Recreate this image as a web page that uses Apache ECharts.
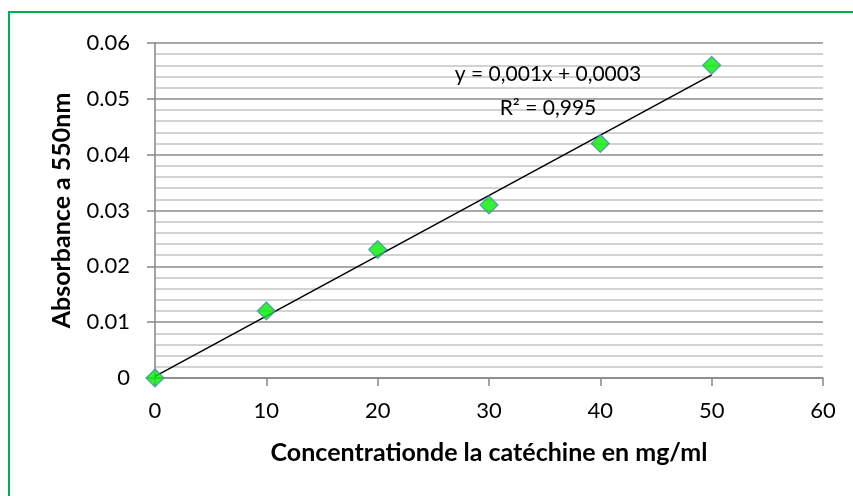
<!DOCTYPE html>
<html><head><meta charset="utf-8">
<script src="https://cdn.jsdelivr.net/npm/echarts@6/dist/echarts.min.js"></script>
<style>html,body{margin:0;padding:0;background:#fff}#c{width:853px;height:496px}</style>
</head><body><div id="c"></div>
<script>
const concentrations = [0, 10, 20, 30, 40, 50];
const absorbance = [0, 0.012, 0.023, 0.031, 0.042, 0.056];
const trendX = [0, 50];
const trendY = [0.0003, 0.0543];
const xTicks = [0, 10, 20, 30, 40, 50, 60];
const yTicks = ['0', '0.01', '0.02', '0.03', '0.04', '0.05', '0.06'];
const equationText = 'y = 0,001x + 0,0003';
const r2Text = 'R² = 0,995';
const xTitle = 'Concentrationde la catéchine en mg/ml';
const yTitle = 'Absorbance a 550nm';

const font = 'Lato, "Open Sans", sans-serif';
const chart = echarts.init(document.getElementById('c'), null, {renderer: 'canvas'});
chart.setOption({
  animation: false,
  backgroundColor: '#fff',
  grid: {left: 155, right: 30, top: 43, bottom: 118, containLabel: false},
  xAxis: {
    type: 'value', min: 0, max: 60, interval: 10,
    axisLine: {show: true, lineStyle: {color: '#868686', width: 1.5}},
    axisTick: {show: true, length: 8, lineStyle: {color: '#868686', width: 1.5}},
    axisLabel: {color: '#000', fontSize: 22, fontFamily: font, margin: 22},
    splitLine: {show: false},
    name: xTitle, nameLocation: 'middle', nameGap: 62,
    nameTextStyle: {color: '#000', fontSize: 25, fontWeight: 'bold', fontFamily: font}
  },
  yAxis: {
    type: 'value', min: 0, max: 0.06, interval: 0.01,
    axisLine: {show: true, lineStyle: {color: '#868686', width: 1.5}},
    axisTick: {show: true, length: 8, inside: false, lineStyle: {color: '#868686', width: 1.5}},
    axisLabel: {color: '#000', fontSize: 22, fontFamily: font, margin: 25,
      formatter: v => yTicks[Math.round(v * 100)] },
    splitLine: {show: true, lineStyle: {color: '#8c8c8c', width: 1.5}},
    minorTick: {show: false, splitNumber: 5},
    minorSplitLine: {show: true, lineStyle: {color: '#c4c4c4', width: 1.5}},
    name: yTitle, nameLocation: 'middle', nameGap: 81, nameRotate: 90,
    nameTextStyle: {color: '#000', fontSize: 25, fontWeight: 'bold', fontFamily: font}
  },
  series: [
    {
      type: 'line', data: trendX.map((x, i) => [x, trendY[i]]),
      symbol: 'none', lineStyle: {color: '#000', width: 1.5}, z: 3
    },
    {
      type: 'scatter', data: concentrations.map((x, i) => [x, absorbance[i]]),
      symbol: 'diamond', symbolSize: [18, 18],
      itemStyle: {color: '#00ee00', borderColor: '#4f81bd', borderWidth: 1.2}, z: 4
    }
  ],
  graphic: [
    {type: 'rect', shape: {x: 9, y: 12, width: 860, height: 500}, style: {fill: 'none', stroke: '#00b050', lineWidth: 2}, z: 10},
    {type: 'text', x: 548, y: 74, style: {text: equationText, font: '21px ' + font, fill: '#000', align: 'center', verticalAlign: 'middle'}, z: 10},
    {type: 'text', x: 548, y: 108, style: {text: r2Text, font: '21px ' + font, fill: '#000', align: 'center', verticalAlign: 'middle'}, z: 10}
  ]
});
</script></body></html>
